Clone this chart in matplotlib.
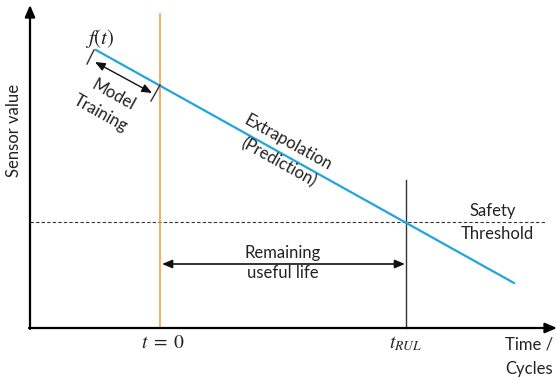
import matplotlib
matplotlib.use("Agg")
import matplotlib.pyplot as plt

plt.rcParams['font.family'] = ['Lato', 'DejaVu Sans']
plt.rcParams['mathtext.fontset'] = 'stix'

# Diagram coordinates (x to the right, y downward as in the sketch)
trend_x = [96, 514]
trend_y = [50, 283]
t0_x = 160
t_rul_x = 406
threshold_y = 222
axis_origin = (30, 328)
axis_x_end = 557
axis_y_end = 5
rul_arrow_y = 264
train_arrow = [(95, 62), (152, 93)]
train_ticks = [[(94, 50), (87, 64)], [(160, 85), (151, 101)]]

fig = plt.figure(figsize=(5.59, 3.81), dpi=100)
ax = fig.add_axes([0, 0, 1, 1])
ax.set_xlim(0, 559)
ax.set_ylim(381, 0)
ax.axis('off')

blue = '#1EA6DE'
orange = '#F5A04A'
txt = '#222222'

# Axes arrows
ax.annotate('', xy=(axis_x_end, axis_origin[1]), xytext=(axis_origin[0] - 1, axis_origin[1]),
            arrowprops=dict(arrowstyle='-|>,head_length=0.7,head_width=0.3', color='black', lw=1.6,
                            shrinkA=0, shrinkB=0))
ax.annotate('', xy=(axis_origin[0], axis_y_end), xytext=(axis_origin[0], axis_origin[1] + 1),
            arrowprops=dict(arrowstyle='-|>,head_length=0.7,head_width=0.3', color='black', lw=1.6,
                            shrinkA=0, shrinkB=0))

# Threshold
ax.plot([axis_origin[0], 545], [threshold_y, threshold_y], color='#333333', lw=0.8, ls=(0, (3, 2)))

# Vertical lines
ax.plot([t0_x, t0_x], [14, axis_origin[1]], color=orange, lw=1.2)
ax.plot([t_rul_x, t_rul_x], [180, axis_origin[1]], color='#333333', lw=1.0)

# Trend line
ax.plot(trend_x, trend_y, color=blue, lw=1.6)

# Training ticks and arrow
for seg in train_ticks:
    ax.plot([seg[0][0], seg[1][0]], [seg[0][1], seg[1][1]], color='#333333', lw=1.0)
ax.annotate('', xy=train_arrow[0], xytext=train_arrow[1],
            arrowprops=dict(arrowstyle='<|-|>,head_length=0.6,head_width=0.25', color='#111111', lw=1.0,
                            shrinkA=0, shrinkB=0))

# RUL arrow
ax.annotate('', xy=(t0_x + 2, rul_arrow_y), xytext=(t_rul_x - 1, rul_arrow_y),
            arrowprops=dict(arrowstyle='<|-|>,head_length=0.6,head_width=0.25', color='#111111', lw=1.2,
                            shrinkA=0, shrinkB=0))

fs = 12
ax.text(100, 38, r'$f(t)$', fontsize=15, ha='center', va='center', color=txt)
ax.text(113, 95, 'Model', fontsize=fs, rotation=-29, ha='center', va='center', color=txt, rotation_mode='anchor')
ax.text(101, 113, 'Training', fontsize=fs, rotation=-29, ha='center', va='center', color=txt, rotation_mode='anchor')
ax.text(288, 143, 'Extrapolation', fontsize=fs, rotation=-29, ha='center', va='center', color=txt, rotation_mode='anchor')
ax.text(278, 163, '(Prediction)', fontsize=fs, rotation=-29, ha='center', va='center', color=txt, rotation_mode='anchor')
ax.text(493, 211, 'Safety', fontsize=fs, ha='center', va='center', color=txt)
ax.text(497, 234, 'Threshold', fontsize=fs, ha='center', va='center', color=txt)
ax.text(283, 253, 'Remaining', fontsize=fs, ha='center', va='center', color=txt)
ax.text(283, 273, 'useful life', fontsize=fs, ha='center', va='center', color=txt)
ax.text(163, 342, r'$t\;=\;0$', fontsize=14, ha='center', va='center', color=txt)
ax.text(406, 344, r'$t_{RUL}$', fontsize=14, ha='center', va='center', color=txt)
ax.text(529, 344, 'Time /', fontsize=fs, ha='center', va='center', color=txt)
ax.text(529, 369, 'Cycles', fontsize=fs, ha='center', va='center', color=txt)
ax.text(14, 130, 'Sensor value', fontsize=fs, rotation=90, ha='center', va='center', color=txt)

fig.savefig('out.png', dpi=100)
